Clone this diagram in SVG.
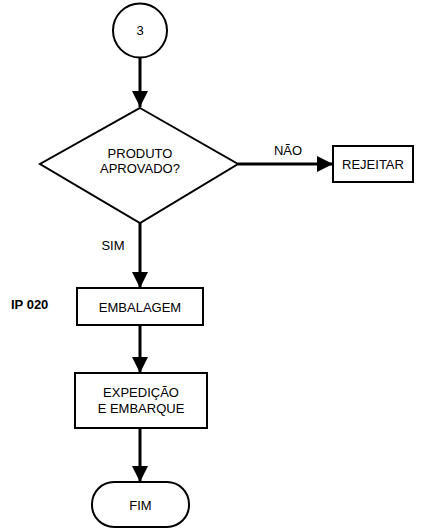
<svg xmlns="http://www.w3.org/2000/svg" width="432" height="531" viewBox="0 0 432 531">
  <style>
    .shape { fill: #ffffff; stroke: #000000; stroke-width: 2; }
    .flow { fill: none; stroke: #000000; stroke-width: 3; }
    .lbl { font-family: "Liberation Sans", Arial, sans-serif; font-size: 13px; fill: #000000; text-anchor: middle; }
    .tag { font-family: "Liberation Sans", Arial, sans-serif; font-size: 13px; font-weight: bold; fill: #000000; }
  </style>
  <defs>
    <marker id="arrow" viewBox="0 0 16 16" markerWidth="16" markerHeight="16" refX="16" refY="8" orient="auto" markerUnits="userSpaceOnUse">
      <path d="M0,0 L16,8 L0,16 Z" fill="#000000"/>
    </marker>
  </defs>
  <rect width="432" height="531" fill="#ffffff"/>

  <!-- connectors -->
  <g id="connectors">
    <line class="flow" x1="140" y1="58" x2="140" y2="107" marker-end="url(#arrow)"/>
    <line class="flow" x1="238" y1="164" x2="333" y2="164" marker-end="url(#arrow)"/>
    <line class="flow" x1="140" y1="223" x2="140" y2="288" marker-end="url(#arrow)"/>
    <line class="flow" x1="140" y1="325" x2="140" y2="373" marker-end="url(#arrow)"/>
    <line class="flow" x1="140" y1="428" x2="140" y2="482" marker-end="url(#arrow)"/>
    <text class="lbl" x="288" y="155">NÃO</text>
    <text class="lbl" x="113" y="250">SIM</text>
  </g>

  <!-- off-page connector 3 -->
  <g id="node-3">
    <circle class="shape" cx="140" cy="30.5" r="27"/>
    <text class="lbl" x="140" y="35">3</text>
  </g>

  <!-- decision -->
  <g id="node-produto-aprovado">
    <polygon class="shape" points="140,108 238,164 140,223 40,164"/>
    <text class="lbl" x="140" y="158">PRODUTO</text>
    <text class="lbl" x="140" y="173">APROVADO?</text>
  </g>

  <g id="node-rejeitar">
    <rect class="shape" x="333" y="146" width="80" height="36"/>
    <text class="lbl" x="373" y="168.5">REJEITAR</text>
  </g>

  <g id="node-embalagem">
    <rect class="shape" x="77" y="288" width="126" height="37"/>
    <text class="lbl" x="140" y="311.5">EMBALAGEM</text>
    <text class="tag" x="11" y="309">IP 020</text>
  </g>

  <g id="node-expedicao">
    <rect class="shape" x="75" y="373" width="132" height="55"/>
    <text class="lbl" x="141" y="397">EXPEDIÇÃO</text>
    <text class="lbl" x="141" y="413">E EMBARQUE</text>
  </g>

  <g id="node-fim">
    <rect class="shape" x="92" y="482" width="97" height="45" rx="22" ry="22"/>
    <text class="lbl" x="140.5" y="509.5">FIM</text>
  </g>
</svg>
